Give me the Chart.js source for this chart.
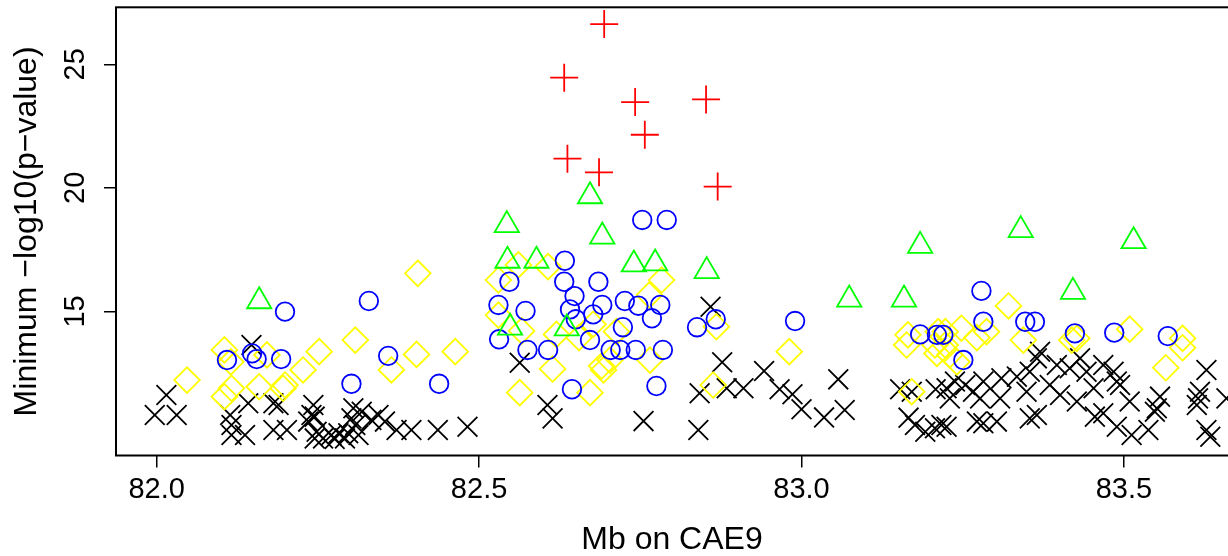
<!DOCTYPE html>
<html>
<head>
<meta charset="utf-8">
<script src="https://cdn.jsdelivr.net/npm/chart.js@4.4.1/dist/chart.umd.min.js"></script>
<style>
  html, body { margin: 0; padding: 0; background: #fff; overflow: hidden; }
  #wrap { width: 1240px; height: 556px; }
</style>
</head>
<body>
<div id="wrap"><canvas id="chart"></canvas></div>
<script>
// Minimum -log10(p) along CAE9, one x/y pair of arrays per marker group

const xTicks = [82.0, 82.5, 83.0, 83.5];
const yTicks = [15, 20, 25];

// black X
const blackX = [
  82.015, 81.997, 82.031, 82.147, 82.142, 82.114, 82.116, 82.116, 82.137, 82.181,
  82.189, 82.181, 82.202, 82.243, 82.240, 82.245, 82.235, 82.248, 82.245, 82.258,
  82.271, 82.282, 82.276, 82.305, 82.318, 82.302, 82.308, 82.297, 82.313, 82.292,
  82.344, 82.333, 82.354, 82.372, 82.395, 82.436, 82.482, 82.563, 82.606, 82.614,
  82.755, 82.859, 82.877, 82.842, 82.884, 82.910, 82.942, 82.966, 82.986, 83.000,
  83.035, 83.057, 83.067, 82.840, 83.153, 83.171, 83.208, 83.166, 83.176, 83.192,
  83.207, 83.217, 83.225, 83.238, 83.254, 83.266, 83.282, 83.310, 83.334, 83.354,
  83.370, 83.365, 83.396, 83.416, 83.432, 83.442, 83.468, 83.484, 83.489, 83.494,
  83.230, 83.277, 83.308, 83.349, 83.385, 83.401, 83.427, 83.453, 83.509, 83.556,
  83.551, 83.618, 83.615, 83.613, 83.628, 83.659, 83.225, 83.272, 83.282, 83.303,
  83.354, 83.365, 83.455, 83.468, 83.489, 83.512, 83.538, 83.548, 83.628, 83.634
];
const blackY = [
  11.62, 10.81, 10.81, 13.64, 11.28, 10.81, 10.40, 10.00, 10.00, 11.28,
  11.21, 10.20, 10.20, 11.21, 10.81, 10.74, 10.54, 10.13, 9.86, 9.86,
  10.00, 10.07, 9.84, 11.08, 10.94, 10.67, 10.40, 10.07, 10.00, 9.86,
  10.81, 10.61, 10.54, 10.20, 10.20, 10.20, 10.33, 12.92, 11.21, 10.67,
  10.56, 15.19, 12.94, 11.69, 11.89, 11.89, 12.59, 11.85, 11.65, 11.04,
  10.71, 12.25, 11.01, 10.20, 11.85, 11.75, 11.85, 10.70, 10.40, 10.13,
  10.27, 10.40, 11.89, 12.16, 12.02, 11.75, 12.16, 12.29, 12.36, 12.56,
  13.37, 13.10, 12.83, 12.70, 13.10, 12.56, 12.83, 12.56, 12.16, 12.02,
  11.48, 11.48, 11.48, 11.75, 12.02, 11.62, 11.35, 11.89, 11.35, 11.55,
  11.08, 11.75, 11.48, 11.21, 12.63, 11.48, 10.33, 10.54, 10.47, 10.54,
  10.67, 10.81, 10.74, 10.88, 10.33, 10.00, 10.20, 10.94, 10.20, 9.93
];

// yellow diamonds
const yellowX = [
  82.047, 82.105, 82.115, 82.105, 82.116, 82.171, 82.159, 82.196, 82.199, 82.227,
  82.252, 82.308, 82.364, 82.405, 82.403, 82.463, 82.563, 82.614, 82.672, 82.530,
  82.561, 82.607, 82.530, 82.566, 82.620, 82.655, 82.677, 82.713, 82.690, 82.693,
  82.703, 82.765, 82.764, 82.783, 82.868, 82.863, 82.981, 83.165, 83.163, 83.171,
  83.212, 83.207, 83.210, 83.321, 83.287, 83.272, 83.344, 83.248, 83.223, 83.223,
  83.230, 83.427, 83.419, 83.509, 83.591, 83.591, 83.565, 83.241
];
const yellowY = [
  12.22, 13.44, 12.96, 11.55, 11.89, 13.24, 11.95, 11.89, 12.02, 12.63,
  13.37, 13.84, 12.63, 16.54, 13.26, 13.37, 11.71, 12.67, 11.71, 16.27,
  16.88, 16.81, 14.85, 14.21, 14.07, 13.94, 14.48, 14.18, 12.79, 12.63,
  13.03, 13.03, 15.66, 16.27, 14.38, 12.02, 13.37, 14.05, 13.64, 11.75,
  14.18, 13.64, 13.30, 15.22, 14.18, 13.94, 13.84, 14.32, 14.18, 13.64,
  13.24, 13.91, 13.84, 14.28, 13.91, 13.53, 12.72, 12.96
];

// blue circles
const blueX = [
  82.199, 82.329, 82.109, 82.148, 82.155, 82.193, 82.302, 82.359, 82.438, 82.633,
  82.547, 82.632, 82.685, 82.648, 82.530, 82.572, 82.641, 82.691, 82.726, 82.747,
  82.781, 82.768, 82.677, 82.650, 82.723, 82.531, 82.672, 82.575, 82.607, 82.704,
  82.719, 82.743, 82.785, 82.644, 82.775, 82.753, 82.791, 82.838, 82.867, 82.990,
  83.184, 83.210, 83.220, 83.279, 83.282, 83.347, 83.362, 83.424, 83.485, 83.568,
  83.251
];
const blueY = [
  14.99, 15.42, 13.03, 13.30, 13.07, 13.07, 12.07, 13.20, 12.07, 17.05,
  16.20, 16.20, 16.20, 15.62, 15.26, 15.02, 15.08, 15.26, 15.42, 15.23,
  15.26, 14.72, 14.88, 14.68, 14.36, 13.87, 13.84, 13.44, 13.44, 13.44,
  13.44, 13.44, 13.44, 11.85, 11.98, 18.70, 18.70, 14.36, 14.68, 14.61,
  14.07, 14.05, 14.05, 15.83, 14.58, 14.58, 14.58, 14.11, 14.14, 14.00,
  13.03
];

// green triangles
const greenX = [82.159, 82.543, 82.544, 82.589, 82.672, 82.691, 82.740, 82.773, 82.548,
  82.636, 82.853, 83.074, 83.159, 83.184, 83.340, 83.421, 83.515];
const greenY = [15.41, 18.49, 17.05, 17.05, 19.66, 18.03, 16.90, 16.94, 14.34,
  14.31, 16.63, 15.48, 15.48, 17.65, 18.29, 15.79, 17.84];

// red plus
const redX = [82.694, 82.632, 82.742, 82.757, 82.852, 82.637, 82.686, 82.870];
const redY = [26.63, 24.46, 23.47, 22.15, 23.58, 21.18, 20.63, 20.05];

const toPoints = (xs, ys) => xs.map((x, i) => ({ x: x, y: ys[i] }));

const TICK_FONT = '29px "Liberation Sans", Arial, sans-serif';
const TITLE_FONT = '32px "Liberation Sans", Arial, sans-serif';

function markerSet(label, xs, ys, color, style, radius) {
  return {
    label: label,
    data: toPoints(xs, ys),
    pointStyle: style,
    pointRadius: radius,
    pointBorderWidth: 1.8,
    borderColor: color,
    backgroundColor: 'rgba(0,0,0,0)',
    showLine: false
  };
}

// R style box, tick labels and axis titles
const rAxes = {
  id: 'rAxes',
  afterDraw(chart) {
    const { ctx, chartArea: a, scales: { x, y } } = chart;
    ctx.save();
    ctx.strokeStyle = '#000';
    ctx.lineWidth = 2;
    ctx.strokeRect(a.left, a.top, a.right - a.left, a.bottom - a.top);

    ctx.fillStyle = '#000';
    ctx.textAlign = 'center';
    ctx.textBaseline = 'middle';
    ctx.font = TICK_FONT;
    xTicks.forEach(v => ctx.fillText(v.toFixed(1), x.getPixelForValue(v), 490));
    yTicks.forEach(v => {
      ctx.save();
      ctx.translate(76, y.getPixelForValue(v));
      ctx.rotate(-Math.PI / 2);
      ctx.fillText(String(v), 0, 0);
      ctx.restore();
    });

    ctx.font = TITLE_FONT;
    ctx.fillText('Mb on CAE9', 672, 540);
    ctx.save();
    ctx.translate(27, (a.top + a.bottom) / 2);
    ctx.rotate(-Math.PI / 2);
    ctx.fillText('Minimum \u2212log10(p\u2212value)', 0, 0);
    ctx.restore();
    ctx.restore();
  }
};

new Chart(document.getElementById('chart'), {
  type: 'scatter',
  data: {
    datasets: [
      markerSet('red', redX, redY, '#FF0000', 'cross', 14),
      markerSet('green', greenX, greenY, '#00FF00', 'triangle', 14),
      markerSet('blue', blueX, blueY, '#0000FF', 'circle', 9.3),
      markerSet('yellow', yellowX, yellowY, '#FFFF00', 'rectRot', 12.8),
      markerSet('black', blackX, blackY, '#000000', 'crossRot', 14)
    ]
  },
  options: {
    responsive: true,
    maintainAspectRatio: false,
    animation: false,
    events: [],
    layout: { autoPadding: false, padding: { top: 7.3, right: 5, left: 0, bottom: 0 } },
    plugins: { legend: { display: false }, tooltip: { enabled: false } },
    scales: {
      x: {
        type: 'linear',
        min: 81.9369,
        max: 83.6723,
        afterBuildTicks: s => { s.ticks = xTicks.map(v => ({ value: v })); },
        afterFit: s => { s.height = 100.5; },
        ticks: { display: false },
        border: { display: false },
        grid: { drawOnChartArea: false, drawTicks: true, tickLength: 12, color: '#000', lineWidth: 1.5 }
      },
      y: {
        type: 'linear',
        min: 9.168,
        max: 27.307,
        afterBuildTicks: s => { s.ticks = yTicks.map(v => ({ value: v })); },
        afterFit: s => { s.width = 116; },
        ticks: { display: false },
        border: { display: false },
        grid: { drawOnChartArea: false, drawTicks: true, tickLength: 12, color: '#000', lineWidth: 1.5 }
      }
    }
  },
  plugins: [rAxes]
});
</script>
</body>
</html>
